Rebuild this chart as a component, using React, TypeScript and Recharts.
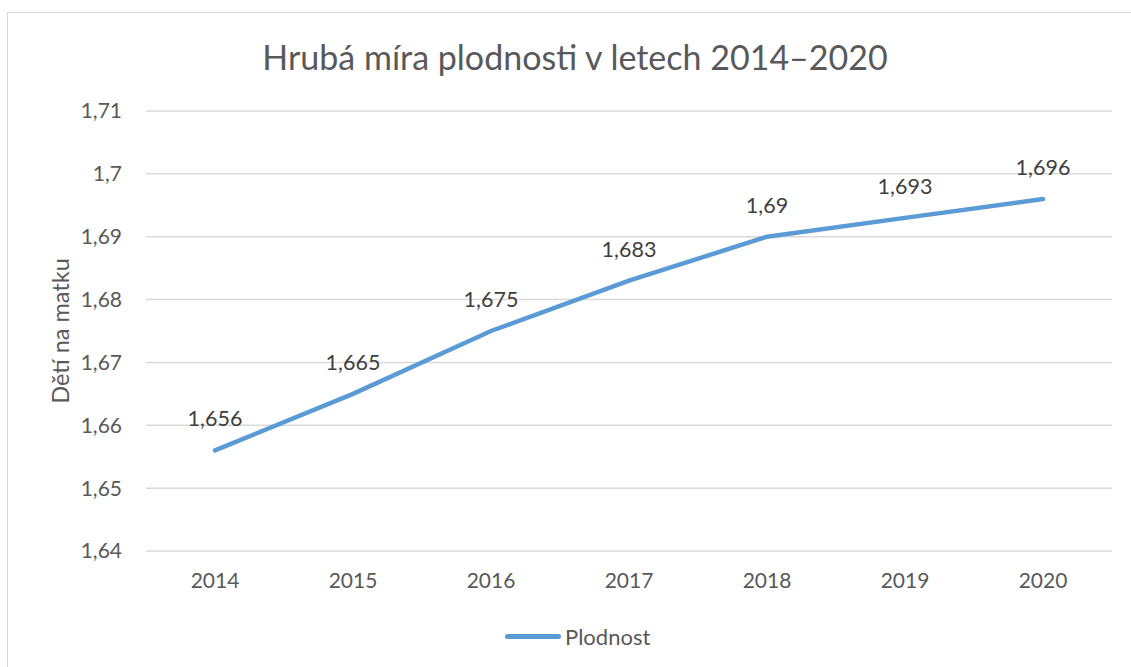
import { LineChart, Line, XAxis, YAxis, CartesianGrid, LabelList } from 'recharts';

const years = ['2014', '2015', '2016', '2017', '2018', '2019', '2020'];
const plodnost = [1.656, 1.665, 1.675, 1.683, 1.69, 1.693, 1.696];
const yTicks = [1.64, 1.65, 1.66, 1.67, 1.68, 1.69, 1.7, 1.71];

const data = years.map((year, i) => ({ year, plodnost: plodnost[i] }));

const FONT = 'Lato, "Open Sans", sans-serif';
const TEXT = '#595959';
const BLUE = '#5b9bd5';

const fmt = (v: number) => String(Number(v.toFixed(3))).replace('.', ',');

const App = () => {
  return (
    <div
      style={{
        position: 'absolute',
        left: 0,
        top: 0,
        width: 1131,
        height: 667,
        background: '#fff',
        overflow: 'hidden',
        fontFamily: FONT,
      }}
    >
      {/* chart frame, only top and left edges are in view */}
      <div
        style={{
          position: 'absolute',
          left: 7,
          top: 12,
          width: 1131,
          height: 667,
          borderLeft: '1px solid #d9d9d9',
          borderTop: '1px solid #d9d9d9',
        }}
      />
      <div
        style={{
          position: 'absolute',
          left: 0,
          width: 1150,
          top: 35,
          textAlign: 'center',
          fontSize: 34,
          color: TEXT,
          lineHeight: '44px',
        }}
      >
        Hrubá míra plodnosti v letech 2014–2020
      </div>
      <div
        style={{
          position: 'absolute',
          left: 60,
          top: 331,
          transform: 'translate(-50%, -50%) rotate(-90deg)',
          fontSize: 23.5,
          color: TEXT,
          whiteSpace: 'nowrap',
        }}
      >
        Dětí na matku
      </div>
      <div style={{ position: 'absolute', left: 0, top: 0 }}>
        <LineChart
          width={1131}
          height={667}
          data={data}
          margin={{ top: 111, right: 19, bottom: 76, left: 86 }}
        >
          <CartesianGrid vertical={false} stroke="#d9d9d9" strokeWidth={1.5} />
          <XAxis
            dataKey="year"
            axisLine={false}
            tickLine={false}
            tickSize={0}
            tickMargin={22}
            height={40}
            padding={{ left: 69, right: 69 }}
            tick={{ fill: TEXT, fontSize: 21, fontFamily: FONT }}
          />
          <YAxis
            domain={[1.64, 1.71]}
            ticks={yTicks}
            tickFormatter={fmt}
            axisLine={false}
            tickLine={false}
            tickSize={0}
            tickMargin={24}
            width={60}
            tick={{ fill: TEXT, fontSize: 21, fontFamily: FONT }}
          />
          <Line
            type="linear"
            dataKey="plodnost"
            stroke={BLUE}
            strokeWidth={4.5}
            strokeLinecap="round"
            dot={false}
            activeDot={false}
            isAnimationActive={false}
          >
            <LabelList
              dataKey="plodnost"
              position="top"
              offset={24}
              formatter={(v: number) => fmt(v)}
              style={{ fill: '#404040', fontSize: 21.5, fontFamily: FONT }}
            />
          </Line>
        </LineChart>
      </div>
      {/* legend */}
      <div
        style={{
          position: 'absolute',
          left: 505,
          top: 623,
          height: 26,
          display: 'flex',
          alignItems: 'center',
          fontSize: 22,
          color: TEXT,
        }}
      >
        <span
          style={{
            display: 'inline-block',
            width: 56,
            height: 5,
            borderRadius: 3,
            background: BLUE,
            marginRight: 4,
          }}
        />
        <span>Plodnost</span>
      </div>
    </div>
  );
};

export default App;
